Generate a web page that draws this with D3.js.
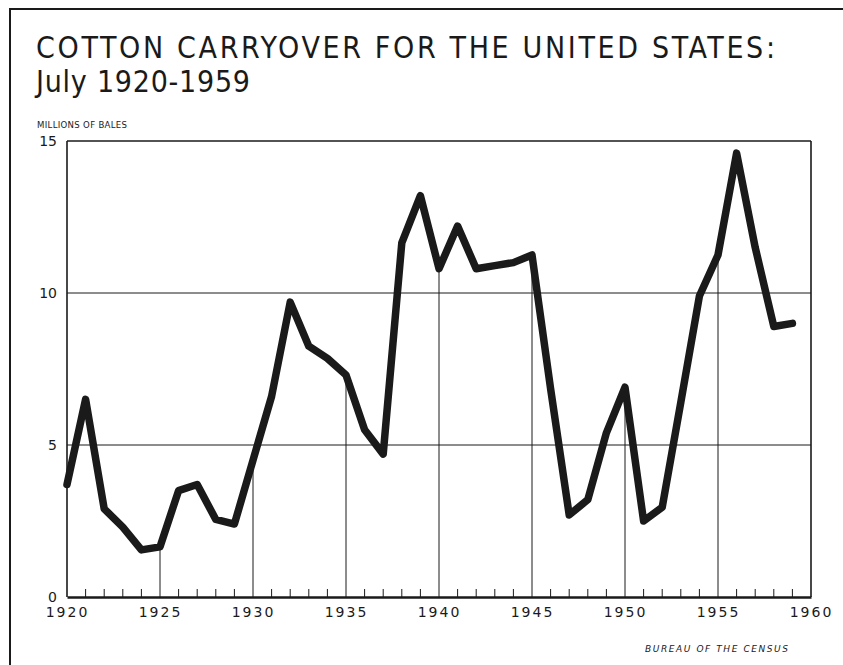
<!DOCTYPE html>
<html>
<head>
<meta charset="utf-8">
<script src="https://cdn.jsdelivr.net/npm/d3@7"></script>
<style>
  body { margin: 0; background: #fff; }
  text { fill: #1a1a1a; }
</style>
</head>
<body>
<svg id="chart" width="843" height="665"></svg>
<script>
const years = d3.range(1920, 1960);
const carryover = [3.7, 6.5, 2.9, 2.3, 1.55, 1.65, 3.5, 3.7, 2.55, 2.4,
  4.5, 6.6, 9.7, 8.25, 7.85, 7.3, 5.5, 4.7, 11.65, 13.2,
  10.8, 12.2, 10.8, 10.9, 11.0, 11.25, 6.85, 2.7, 3.2, 5.4,
  6.9, 2.5, 2.95, 6.4, 9.9, 11.25, 14.6, 11.5, 8.9, 9.0];
const yTicks = [0, 5, 10, 15];
const xTicks = [1920, 1925, 1930, 1935, 1940, 1945, 1950, 1955, 1960];

const data = years.map((y, i) => ({ year: y, value: carryover[i] }));

const svg = d3.select('#chart');
const ink = '#1a1a1a';
const plotLeft = 67, plotRight = 811, plotTop = 141, plotBottom = 597;

const x = d3.scaleLinear().domain([1920, 1960]).range([plotLeft, plotRight]);
const y = d3.scaleLinear().domain([0, 15]).range([plotBottom, plotTop]);

// outer frame
svg.append('path')
  .attr('d', `M10,665 L10,9 L843,9`)
  .attr('fill', 'none')
  .attr('stroke', ink)
  .attr('stroke-width', 2);

// titles
svg.append('text')
  .attr('x', 36).attr('y', 58)
  .attr('textLength', 739)
  .style('font-family', '"DejaVu Sans Condensed", "DejaVu Sans"')
  .style('font-size', '30px')
  .text('COTTON CARRYOVER FOR THE UNITED STATES:');

svg.append('text')
  .attr('x', 36).attr('y', 92)
  .attr('textLength', 214)
  .style('font-family', '"DejaVu Sans Condensed", "DejaVu Sans"')
  .style('font-size', '30px')
  .text('July 1920-1959');

svg.append('text')
  .attr('x', 37).attr('y', 128)
  .attr('textLength', 90)
  .style('font-family', '"DejaVu Sans Condensed", "DejaVu Sans"')
  .style('font-size', '9.5px')
  .text('MILLIONS OF BALES');

svg.append('text')
  .attr('x', 645).attr('y', 652)
  .attr('textLength', 143)
  .style('font-family', '"DejaVu Sans", sans-serif')
  .style('font-size', '9px')
  .style('font-style', 'italic')
  .text('BUREAU OF THE CENSUS');

// horizontal grid
svg.append('g')
  .selectAll('line')
  .data(yTicks.filter(d => d > 0))
  .join('line')
  .attr('x1', plotLeft).attr('x2', plotRight)
  .attr('y1', d => y(d)).attr('y2', d => y(d))
  .attr('stroke', ink)
  .attr('stroke-width', d => d === 15 ? 1.6 : 1);

// vertical lines rise from the base to the curve
svg.append('g')
  .selectAll('line')
  .data(data.filter(d => d.year % 5 === 0 && d.year > 1920))
  .join('line')
  .attr('x1', d => x(d.year)).attr('x2', d => x(d.year))
  .attr('y1', y(0)).attr('y2', d => y(d.value))
  .attr('stroke', ink)
  .attr('stroke-width', 1);

// box sides
svg.append('line')
  .attr('x1', plotLeft).attr('x2', plotLeft).attr('y1', plotTop).attr('y2', plotBottom)
  .attr('stroke', ink).attr('stroke-width', 1.6);
svg.append('line')
  .attr('x1', plotRight).attr('x2', plotRight).attr('y1', plotTop).attr('y2', plotBottom)
  .attr('stroke', ink).attr('stroke-width', 1.6);

// x axis with minor year ticks
const xAxis = d3.axisBottom(x)
  .tickValues(xTicks)
  .tickFormat(d3.format('d'))
  .tickSize(0)
  .tickPadding(10);

const gx = svg.append('g')
  .attr('transform', `translate(0,${plotBottom})`)
  .call(xAxis);
gx.select('.domain').attr('stroke', ink).attr('stroke-width', 2.5);
gx.selectAll('text')
  .style('font-family', '"DejaVu Sans", sans-serif')
  .style('font-size', '14px')
  .style('letter-spacing', '2px')
  .attr('fill', ink);

svg.append('g')
  .selectAll('line')
  .data(years.filter(d => d % 5 !== 0))
  .join('line')
  .attr('x1', d => x(d)).attr('x2', d => x(d))
  .attr('y1', plotBottom).attr('y2', plotBottom - 8)
  .attr('stroke', ink)
  .attr('stroke-width', 1);

// y axis labels
const yAxis = d3.axisLeft(y)
  .tickValues(yTicks)
  .tickSize(0)
  .tickPadding(10);
const gy = svg.append('g')
  .attr('transform', `translate(${plotLeft},0)`)
  .call(yAxis);
gy.select('.domain').remove();
gy.selectAll('text')
  .style('font-family', '"DejaVu Sans", sans-serif')
  .style('font-size', '14px')
  .attr('fill', ink);

// the data line
const line = d3.line()
  .x(d => x(d.year))
  .y(d => y(d.value));

svg.append('path')
  .datum(data)
  .attr('d', line)
  .attr('fill', 'none')
  .attr('stroke', ink)
  .attr('stroke-width', 7.5)
  .attr('stroke-linejoin', 'round')
  .attr('stroke-linecap', 'round');
</script>
</body>
</html>
